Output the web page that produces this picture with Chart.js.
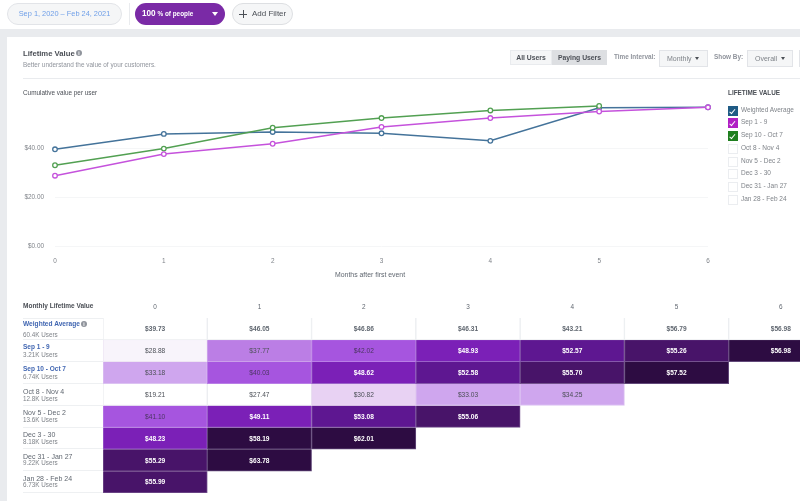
<!DOCTYPE html>
<html><head><meta charset="utf-8">
<script src="https://cdn.jsdelivr.net/npm/chart.js@4"></script>
<style>
html,body{margin:0;padding:0;width:800px;height:501px;overflow:hidden;background:#fff;font-family:"Liberation Sans",Arial,sans-serif;color:#606770}
.a{position:absolute;white-space:nowrap;line-height:1;will-change:transform}
.box{box-sizing:border-box}
canvas{position:absolute}
.chk{position:absolute;left:3px;top:1.5px;width:2px;height:4.5px;border:solid #fff;border-width:0 1.2px 1.2px 0;transform:rotate(40deg)}
</style></head><body>
<div class="a" style="left:0;top:29px;width:800px;height:8px;background:#e9ebee"></div>
<div class="a" style="left:0;top:29px;width:7px;height:472px;background:#e9ebee"></div>

<div class="a box" style="left:7px;top:3px;width:115px;height:22px;border:1px solid #e2e4e8;border-radius:11px;background:#f5f6f7;color:#6f9fe8;font-size:7.4px;text-align:center;line-height:20px">Sep 1, 2020 – Feb 24, 2021</div>
<div class="a" style="left:129px;top:3px;width:1px;height:22px;background:#e9ebee"></div>
<div class="a box" style="left:135px;top:3px;width:90px;height:22px;border-radius:11px;background:#7a2aa6;color:#fff;font-size:6.4px;line-height:22px;padding-left:7px;font-weight:bold"><span style="font-size:8.2px">100</span> % of people</div>
<div class="a" style="left:212px;top:12px;width:0;height:0;border:solid transparent;border-width:4px 3px 0;border-top-color:#fff"></div>
<div class="a box" style="left:232px;top:3px;width:61px;height:22px;border:1px solid #dddfe2;border-radius:11px;background:#f5f6f7;color:#4b4f56;font-size:8px;line-height:20px;padding-left:19px">Add Filter</div>
<div class="a" style="left:239px;top:13.5px;width:8px;height:1px;background:#4b4f56"></div>
<div class="a" style="left:242.5px;top:10px;width:1px;height:8px;background:#4b4f56"></div>

<div class="a" style="left:23px;top:50px;font-size:7.7px;font-weight:bold;color:#4b4f56">Lifetime Value</div>
<div class="a" style="left:75.5px;top:50px;width:6px;height:6px;border-radius:50%;background:#90949c;color:#fff;font-size:5px;line-height:6px;text-align:center;font-weight:bold">i</div>
<div class="a" style="left:23px;top:62px;font-size:6.4px;color:#90949c">Better understand the value of your customers.</div>
<div class="a" style="left:23px;top:78px;width:777px;height:1px;background:#e9ebee"></div>
<div class="a" style="left:23px;top:90px;font-size:6.4px;color:#4b4f56">Cumulative value per user</div>

<div class="a box" style="left:510px;top:50px;width:42px;height:15px;background:#f5f6f7;border:1px solid #e9ebee;font-size:6.8px;line-height:13px;text-align:center;font-weight:bold;color:#4b4f56">All Users</div>
<div class="a box" style="left:552px;top:50px;width:55px;height:15px;background:#dddfe2;font-size:6.8px;line-height:15px;text-align:center;font-weight:bold;color:#4b4f56">Paying Users</div>
<div class="a" style="left:614px;top:54px;font-size:6.4px;font-weight:bold;color:#90949c">Time Interval:</div>
<div class="a box" style="left:659px;top:50px;width:49px;height:17px;background:#f5f6f7;border:1px solid #e2e4e8;font-size:7px;line-height:16px;padding-left:7px;color:#7f8389">Monthly</div>
<div class="a" style="left:695px;top:57px;width:0;height:0;border:solid transparent;border-width:3.5px 2.5px 0;border-top-color:#4b4f56"></div>
<div class="a" style="left:714px;top:54px;font-size:6.4px;font-weight:bold;color:#90949c">Show By:</div>
<div class="a box" style="left:747px;top:50px;width:46px;height:17px;background:#f5f6f7;border:1px solid #e2e4e8;font-size:7px;line-height:16px;padding-left:7px;color:#7f8389">Overall</div>
<div class="a" style="left:781px;top:57px;width:0;height:0;border:solid transparent;border-width:3.5px 2.5px 0;border-top-color:#4b4f56"></div>
<div class="a box" style="left:799px;top:50px;width:1px;height:17px;background:#e2e4e8"></div>

<div class="a" style="left:728px;top:90px;font-size:6.4px;font-weight:bold;color:#4b4f56">LIFETIME VALUE</div>
<div id="legend"></div>
<div class="a" style="left:23px;top:303px;font-size:6.5px;font-weight:bold;color:#4b4f56">Monthly Lifetime Value</div>
<div id="rows"></div>

<canvas id="line" style="left:0;top:90px"></canvas>
<canvas id="heat" style="left:103px;top:298px"></canvas>
<div class="a" style="left:335px;top:272px;font-size:6.9px;color:#606770">Months after first event</div>

<script>
const months = ['0','1','2','3','4','5','6'];
const rowNames = ['Weighted Average','Sep 1 - 9','Sep 10 - Oct 7','Oct 8 - Nov 4','Nov 5 - Dec 2','Dec 3 - 30','Dec 31 - Jan 27','Jan 28 - Feb 24'];
const rowUsers = ['60.4K Users','3.21K Users','6.74K Users','12.8K Users','13.6K Users','8.18K Users','9.22K Users','6.73K Users'];
const weightedAverage = [39.73,46.05,46.86,46.31,43.21,56.79,56.98];
const sep1to9 = [28.88,37.77,42.02,48.93,52.57,55.26,56.98];
const sep10toOct7 = [33.18,40.03,48.62,52.58,55.70,57.52,null];
const oct8toNov4 = [19.21,27.47,30.82,33.03,34.25,null,null];
const nov5toDec2 = [41.10,49.11,53.08,55.06,null,null,null];
const dec3to30 = [48.23,58.19,62.01,null,null,null,null];
const dec31toJan27 = [55.29,63.78,null,null,null,null,null];
const jan28toFeb24 = [55.99,null,null,null,null,null,null];
const yTicks = [0,20,40];
const lineBlue = '#44739a', linePurple = '#c552dc', lineGreen = '#52a052';
const checkColors = ['#1f5b85','#b01fc4','#1f7f1f'];

const rows = [weightedAverage,sep1to9,sep10toOct7,oct8toNov4,nov5toDec2,dec3to30,dec31toJan27,jan28toFeb24];
// [upper bound, fill, edge, text]
const bins = [
 [28,'#ffffff','#eceef1','#4b4f56'],[30,'#f8f4fb','#eee6f3','#4b4f56'],[32,'#e8d2f3','#e4d0ef','#4b4f56'],
 [36,'#cfa6ee','#dcc2f2','#4b4f56'],[39,'#bb7ee5','#cba0ea','#4b4f56'],[45,'#a655df','#b97ee6','#4a3560'],
 [50,'#7b20b7','#9a62c8','#ffffff'],[54,'#5e1791','#8558ab','#ffffff'],[56.5,'#481469','#74528e','#ffffff'],
 [99,'#2d0c42','#62497a','#ffffff']];
const binFor = v => bins.find(b => v < b[0]);

// legend
let h = '';
rowNames.forEach((n,i)=>{
  const y = 105.5 + i*12.75;
  const c = checkColors[i];
  h += `<div class="a box" style="left:728px;top:${y}px;width:9.5px;height:9.5px;${c?`background:${c}`:'background:#fff;border:1px solid #ebedf0'}">${c?'<div class="chk"></div>':''}</div>`;
  h += `<div class="a" style="left:741px;top:${y+1}px;font-size:6.5px;color:#7f8389">${n}</div>`;
});
document.getElementById('legend').innerHTML = h;

// row labels
const nameY = [320.5,343.5,365.5,387.5,409,431,452.5,474.5];
const userY = [332,352,374,395.5,417,438.5,460,482];
h = '';
rowNames.forEach((n,i)=>{
  const link = i<3;
  h += `<div class="a" style="left:23px;top:${nameY[i]}px;font-size:${i===0?6.6:i<3?6.5:7}px;${link?'font-weight:bold;color:#4267b2':'color:#606770'}">${n}</div>`;
  h += `<div class="a" style="left:23px;top:${userY[i]}px;font-size:6.3px;color:#7f8389">${rowUsers[i]}</div>`;
  h += `<div class="a" style="left:23px;top:${317.5+21.8*(i+1)}px;width:80px;height:1px;background:#eef0f2"></div>`;
});
h += `<div class="a" style="left:80.5px;top:321px;width:6px;height:6px;border-radius:50%;background:#90949c;color:#fff;font-size:5px;line-height:6px;text-align:center;font-weight:bold">i</div>`;
h += `<div class="a" style="left:23px;top:317.5px;width:80px;height:1px;background:#eef0f2"></div>`;
document.getElementById('rows').innerHTML = h;

const font = {family:'"Liberation Sans",Arial,sans-serif',size:6.4};
const lineDs = (label,data,color,order)=>({label,data,borderColor:color,pointBorderColor:color,backgroundColor:color,
  pointBackgroundColor:'#fff',pointRadius:2.3,pointBorderWidth:1.3,borderWidth:1.5,tension:0,clip:false,order});

const lineEl = document.getElementById('line');
lineEl.width = 730; lineEl.height = 200;
new Chart(lineEl,{type:'line',
 data:{labels:months,datasets:[
  lineDs(rowNames[1],sep1to9,linePurple,1),
  lineDs(rowNames[2],sep10toOct7,lineGreen,2),
  lineDs(rowNames[0],weightedAverage,lineBlue,3)]},
 options:{responsive:false,animation:false,devicePixelRatio:1,
  layout:{padding:{top:14,right:22,left:0,bottom:0}},
  plugins:{legend:{display:false},tooltip:{enabled:false}},
  scales:{
   x:{offset:false,grid:{display:false},border:{display:false},
      ticks:{font,color:'#7f8389',padding:3,maxRotation:0},
      afterFit(s){s.height=44;}},
   y:{min:0,max:58,grid:{color:'#f5f6f7',drawTicks:false},border:{display:false},
      afterBuildTicks(s){s.ticks=yTicks.map(value=>({value}));},
      ticks:{font,color:'#7f8389',padding:11,callback:v=>'$'+v.toFixed(2)},
      afterFit(s){s.width=55;}}
  }}});

const cellText = {id:'cellText',afterDatasetsDraw(c){
  const g=c.ctx; g.save(); g.textAlign='center'; g.textBaseline='middle';
  c.data.datasets.forEach((d,i)=>{
    c.getDatasetMeta(i).data.forEach((el,j)=>{
      const v=d.values[j]; if(v==null) return;
      const col = binFor(v)[3];
      const bold = i===0 || col==='#ffffff';
      g.font=(bold?'bold ':'')+'6.6px "Liberation Sans",Arial,sans-serif';
      g.fillStyle = i===0 ? '#606770' : col;
      g.fillText('$'+v.toFixed(2),el.x,(el.y+el.base)/2+.5);
    });
  });
  g.restore();
}};

const heatEl = document.getElementById('heat');
heatEl.width = 730; heatEl.height = 195;
new Chart(heatEl,{type:'bar',
 data:{labels:months,datasets:rows.map((r,i)=>({
   label:rowNames[i],values:r,data:r.map(v=>v==null?null:1),
   barPercentage:1,categoryPercentage:1,borderWidth:1,
   backgroundColor:ctx=>i===0?'#ffffff':binFor(r[ctx.dataIndex]??0)[1],
   borderColor:ctx=>i===0?'#eceef1':binFor(r[ctx.dataIndex]??0)[2]
 }))},
 options:{responsive:false,animation:false,devicePixelRatio:1,
  layout:{padding:0},
  plugins:{legend:{display:false},tooltip:{enabled:false}},
  scales:{
   x:{position:'top',stacked:true,grid:{display:false},border:{display:false},
      ticks:{font,color:'#606770',padding:-1,maxRotation:0},afterFit(s){s.height=20;}},
   y:{stacked:true,reverse:true,min:0,max:8,display:false}
  }},plugins:[cellText]});
</script>
</body></html>
